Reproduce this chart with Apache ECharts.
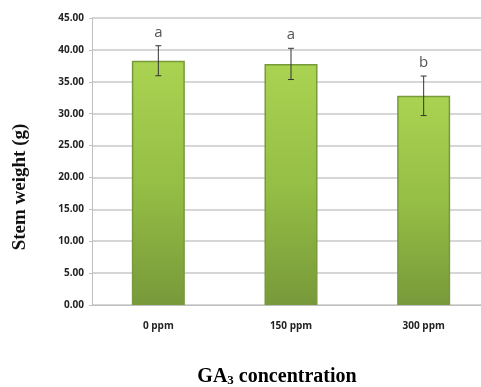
<!DOCTYPE html>
<html><head><meta charset="utf-8">
<script src="https://cdn.jsdelivr.net/npm/echarts@6/dist/echarts.min.js"></script>
<style>html,body{margin:0;padding:0;background:#fff;overflow:hidden}#c{width:490px;height:387px}</style>
</head><body><div id="c"></div>
<script>
var categories = ['0 ppm', '150 ppm', '300 ppm'];
var stemWeight = [38.3, 37.8, 32.8];
var errorSD = [2.35, 2.45, 3.1];
var letters = ['a', 'a', 'b'];
var yTicks = [0, 45, 5];

var chart = echarts.init(document.getElementById('c'), null, {renderer: 'canvas'});
var errData = stemWeight.map(function (v, i) { return [i, v - errorSD[i], v + errorSD[i], letters[i]]; });

chart.setOption({
  animation: false,
  grid: {left: 92, right: 0, top: 18, height: 287, containLabel: false},
  xAxis: {
    type: 'category', data: categories,
    axisLine: {lineStyle: {color: '#bfbfbf', width: 1}},
    axisTick: {show: false},
    axisLabel: {color: '#222', fontFamily: 'Open Sans', fontWeight: 'bold', fontSize: 10, margin: 16}
  },
  yAxis: {
    type: 'value', min: yTicks[0], max: yTicks[1], interval: yTicks[2],
    axisLine: {show: true, lineStyle: {color: '#bfbfbf', width: 1}},
    axisTick: {show: true, length: 3, lineStyle: {color: '#bfbfbf'}},
    splitLine: {lineStyle: {color: '#c8c8c8', width: 1.5}},
    axisLabel: {color: '#222', fontFamily: 'Open Sans', fontWeight: 'bold', fontSize: 10, margin: 8,
      formatter: function (v) { return v.toFixed(2); }}
  },
  series: [
    {
      type: 'bar', data: stemWeight, barWidth: 53,
      itemStyle: {
        color: new echarts.graphic.LinearGradient(0, 0, 0, 1, [
          {offset: 0, color: '#aad352'}, {offset: 0.5, color: '#95bf45'}, {offset: 1, color: '#78993a'}
        ]),
        borderColor: '#789a3b', borderWidth: 1.5
      }
    },
    {
      type: 'custom', data: errData, z: 10,
      renderItem: function (params, api) {
        var x = api.value(0);
        var lo = api.coord([x, api.value(1)]);
        var hi = api.coord([x, api.value(2)]);
        var cap = 3;
        var st = {stroke: '#333', lineWidth: 1};
        return {type: 'group', children: [
          {type: 'line', shape: {x1: lo[0], y1: lo[1], x2: hi[0], y2: hi[1]}, style: st},
          {type: 'line', shape: {x1: lo[0] - cap, y1: lo[1], x2: lo[0] + cap, y2: lo[1]}, style: st},
          {type: 'line', shape: {x1: hi[0] - cap, y1: hi[1], x2: hi[0] + cap, y2: hi[1]}, style: st},
          {type: 'text', style: {text: api.value(3), x: hi[0], y: hi[1] - 6, textAlign: 'center', textVerticalAlign: 'bottom',
            fill: '#555', font: '15px "Open Sans"'}}
        ]};
      }
    }
  ],
  graphic: [
    {type: 'text', rotation: Math.PI / 2, x: 20, y: 187,
      style: {text: 'Stem weight (g)', textAlign: 'center', textVerticalAlign: 'middle',
        font: 'bold 19px "Liberation Serif"', fill: '#111'}},
    {type: 'text', x: 277, y: 377,
      style: {text: '{a|GA}{s|3}{a| concentration}', textAlign: 'center', textVerticalAlign: 'middle',
        rich: {a: {fontFamily: 'Liberation Serif', fontWeight: 'bold', fontSize: 20, color: '#111'},
               s: {fontFamily: 'Liberation Serif', fontWeight: 'bold', fontSize: 13, color: '#111', verticalAlign: 'bottom', padding: [8, 0, 0, 0]}}}}
  ]
});
</script></body></html>
